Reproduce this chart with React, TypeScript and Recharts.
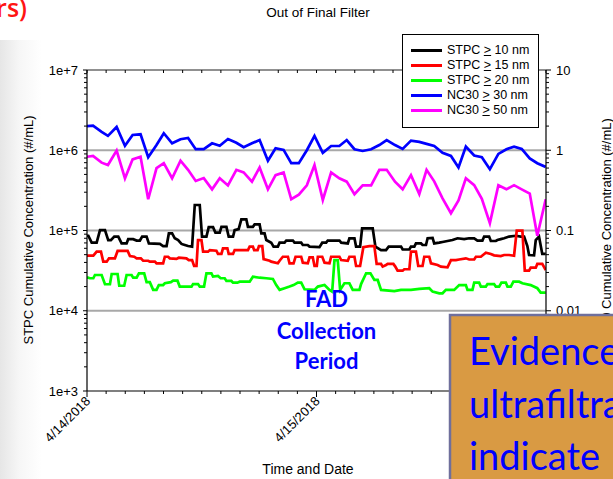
import React from 'react';
import { LineChart, Line, XAxis, YAxis, ReferenceLine, Legend } from 'recharts';

const FONT = '"Liberation Sans", Arial, sans-serif';
const SLIDE_FONT = 'Lato, "Open Sans", sans-serif';

// ---- axis categories / labels ----
const dayHours = [0, 24, 48];
const dayLabels = ['4/14/2018', '4/15/2018', '4/16/2018'];
const hourTicks = [0, 2, 4, 6, 8, 10, 12, 14, 16, 18, 20, 22, 24, 26, 28, 30, 32, 34, 36, 38, 40, 42, 44, 46, 48];
const leftMajor = [1e3, 1e4, 1e5, 1e6, 1e7];
const leftMajorLabels = ['1e+3', '1e+4', '1e+5', '1e+6', '1e+7'];
const rightMajor = [0.001, 0.01, 0.1, 1, 10];
const rightMajorLabels = ['0.001', '0.01', '0.1', '1', '10'];
const minorMultipliers = [2, 3, 4, 5, 6, 7, 8, 9];
const gridValues = [1e4, 1e5, 1e6];

const seriesNames = ['STPC > 10 nm', 'STPC > 15 nm', 'STPC > 20 nm', 'NC30 > 30 nm', 'NC30 > 50 nm'];
const seriesColors = ['#000000', '#ff0000', '#00ff00', '#0000ff', '#ff00ff'];

// ---- NC30 series (hours since 4/14/2018 00:00) ----
const nc30Hours = [0, 0.63, 1.53, 2.19, 3.1, 3.97, 4.77, 5.6, 6.4, 7.27, 8.03, 8.9, 9.78, 10.57, 11.37, 12.21, 13.08, 13.88, 14.74, 15.62, 16.38, 17.25, 18.05, 18.92, 19.72, 20.56, 21.36, 22.15, 22.99, 23.79, 24.66, 25.53, 26.39, 27.16, 27.97, 28.83, 29.71, 30.57, 31.34, 32.21, 33.01, 33.88, 34.75, 35.51, 36.31, 37.18, 38.06, 38.85, 39.62, 40.49, 41.29, 42.13, 43.02, 43.86, 44.66, 45.46, 46.3, 47.09, 47.97];
const nc30Above30 = [2.0e6, 2.02e6, 1.69e6, 1.51e6, 1.95e6, 1.14e6, 1.55e6, 1.58e6, 8.2e5, 1.16e6, 1.63e6, 1.22e6, 1.37e6, 1.42e6, 1.03e6, 1.03e6, 1.22e6, 1.14e6, 1.38e6, 1.24e6, 1.09e6, 1.22e6, 1.34e6, 7.4e5, 1.06e6, 1.01e6, 6.9e5, 6.9e5, 1.0e6, 1.51e6, 9.3e5, 1.13e6, 1.13e6, 1.34e6, 1.03e6, 9.8e5, 1.03e6, 1.16e6, 1.34e6, 1.16e6, 1.04e6, 1.32e6, 1.27e6, 1.2e6, 1.13e6, 9.3e5, 8.5e5, 6.1e5, 1.11e6, 8.6e5, 8.2e5, 5.8e5, 9.0e5, 1.03e6, 1.11e6, 1.04e6, 7.9e5, 6.9e5, 6.2e5];
const nc30Above50 = [8.3e5, 8.5e5, 7.0e5, 6.55e5, 9.9e5, 4.47e5, 7.7e5, 8.3e5, 2.45e5, 6.0e5, 6.9e5, 4.48e5, 7.4e5, 5.7e5, 4.14e5, 4.5e5, 3.26e5, 4.48e5, 3.64e5, 5.7e5, 5.3e5, 4.06e5, 6.1e5, 3.26e5, 4.9e5, 5.3e5, 2.45e5, 2.8e5, 3.66e5, 6.55e5, 2.4e5, 5.3e5, 4.47e5, 4.06e5, 2.83e5, 3.66e5, 3.66e5, 5.7e5, 5.7e5, 4.06e5, 3.26e5, 4.9e5, 2.84e5, 5.7e5, 4.1e5, 2.52e5, 1.64e5, 2.37e5, 4.47e5, 3.67e5, 2.48e5, 1.23e5, 3.67e5, 3.26e5, 3.67e5, 3.26e5, 2.88e5, 8.6e4, 2.45e5];

// ---- STPC series: [hour, concentration] ----
const stpc10: [number, number][] = [[0, 8.6e4], [0.14, 8.6e4], [0.49, 7.05e4], [1.01, 7.05e4], [1.36, 1.01e5], [1.88, 1.01e5], [2.22, 7.6e4], [2.5, 7.6e4], [2.85, 8.4e4], [3.27, 8.4e4], [3.62, 6.9e4], [4.14, 6.9e4], [4.31, 7.8e4], [4.83, 7.8e4], [5.19, 7.5e4], [5.53, 7.5e4], [5.77, 8.4e4], [6.23, 8.4e4], [6.47, 6.9e4], [7.62, 6.8e4], [7.96, 6.4e4], [8.32, 6.4e4], [8.56, 9.2e4], [8.9, 9.2e4], [9.18, 8.0e4], [9.53, 7.6e4], [9.88, 6.8e4], [10.23, 6.6e4], [10.57, 6.4e4], [10.99, 6.3e4], [11.27, 2.08e5], [11.79, 2.08e5], [12.03, 8.4e4], [12.49, 8.4e4], [12.73, 1.1e5], [13.18, 1.1e5], [13.43, 9.4e4], [13.88, 9.4e4], [14.06, 1.11e5], [14.58, 1.11e5], [14.82, 8.4e4], [15.27, 8.4e4], [15.44, 1.01e5], [15.86, 1.04e5], [16.14, 1.38e5], [16.66, 1.38e5], [16.83, 1.11e5], [17.35, 1.11e5], [17.53, 1.19e5], [18.05, 1.19e5], [18.23, 9.2e4], [18.57, 9.2e4], [18.75, 7.6e4], [19.27, 7.05e4], [19.51, 6.3e4], [19.96, 6.3e4], [20.14, 7.05e4], [20.66, 7.05e4], [20.84, 7.5e4], [21.53, 7.5e4], [21.7, 7.05e4], [22.4, 7.05e4], [22.57, 6.6e4], [23.09, 6.6e4], [23.27, 6.3e4], [24.31, 6.2e4], [24.6, 7.05e4], [25.01, 7.05e4], [25.18, 7.5e4], [26.4, 7.5e4], [26.58, 7.05e4], [27.27, 6.9e4], [27.44, 8.0e4], [27.97, 8.0e4], [28.14, 6.3e4], [28.56, 6.3e4], [28.77, 1.06e5], [29.88, 1.06e5], [30.16, 6.3e4], [30.75, 5.7e4], [31.27, 5.7e4], [31.55, 6.3e4], [32.84, 6.3e4], [33.01, 5.8e4], [33.71, 5.8e4], [33.88, 6.3e4], [34.23, 6.3e4], [34.4, 6.9e4], [34.93, 6.9e4], [35.09, 6.6e4], [35.45, 6.6e4], [35.62, 8.0e4], [36.14, 8.1e4], [36.31, 6.9e4], [36.84, 7.05e4], [37.18, 7.2e4], [37.7, 7.4e4], [38.22, 7.6e4], [38.75, 8.0e4], [39.44, 7.8e4], [39.96, 8.0e4], [40.49, 8.0e4], [40.83, 7.5e4], [41.35, 7.5e4], [41.53, 8.4e4], [42.05, 8.4e4], [42.23, 7.4e4], [42.75, 7.4e4], [42.92, 7.6e4], [43.27, 7.8e4], [43.62, 8.0e4], [44.14, 8.4e4], [44.84, 8.6e4], [45.36, 8.4e4], [45.71, 8.4e4], [46.05, 6.4e4], [46.23, 4.95e4], [46.75, 4.9e4], [46.93, 7.6e4], [47.27, 8.4e4], [47.61, 5.1e4], [47.97, 5.1e4]];

const stpc15: [number, number][] = [[0, 4.85e4], [0.66, 4.85e4], [1.01, 5.45e4], [1.46, 5.45e4], [1.7, 4.09e4], [2.06, 4.09e4], [2.3, 4.5e4], [2.92, 4.5e4], [3.2, 5.56e4], [4.25, 5.56e4], [4.49, 4.81e4], [4.94, 4.71e4], [5.19, 4.5e4], [5.63, 4.5e4], [5.87, 4.2e4], [6.4, 4.2e4], [6.57, 4.09e4], [7.1, 4.09e4], [7.27, 3.9e4], [7.96, 3.9e4], [8.14, 4.71e4], [8.48, 4.71e4], [8.66, 4.5e4], [9.36, 4.42e4], [9.6, 4.58e4], [10.4, 4.5e4], [10.64, 4.28e4], [10.99, 4.28e4], [11.2, 3.61e4], [11.45, 3.61e4], [11.61, 7.6e4], [11.97, 7.6e4], [12.14, 5.45e4], [12.66, 5.45e4], [12.84, 5.7e4], [13.53, 5.6e4], [13.7, 5.1e4], [14.06, 5.1e4], [14.22, 6.0e4], [14.68, 6.0e4], [14.82, 5.1e4], [15.27, 5.1e4], [15.44, 5.7e4], [16.83, 5.7e4], [17.01, 6.3e4], [17.35, 6.3e4], [17.48, 5.7e4], [17.84, 5.7e4], [17.98, 6.4e4], [18.33, 6.4e4], [18.47, 4.4e4], [19.1, 4.2e4], [19.27, 4.09e4], [19.96, 3.9e4], [20.14, 4.2e4], [20.48, 4.71e4], [21.01, 4.71e4], [21.18, 3.9e4], [21.6, 3.9e4], [21.81, 4.71e4], [22.4, 4.71e4], [22.57, 3.97e4], [23.09, 3.9e4], [23.27, 4.63e4], [23.61, 4.63e4], [23.79, 3.61e4], [24.03, 3.61e4], [24.14, 4.71e4], [24.6, 4.71e4], [24.84, 3.97e4], [25.36, 3.9e4], [25.53, 4.71e4], [26.4, 4.71e4], [26.58, 4.28e4], [27.27, 4.2e4], [27.44, 4.71e4], [27.97, 4.71e4], [28.14, 3.61e4], [28.56, 3.61e4], [28.9, 6.2e4], [29.53, 6.4e4], [30.05, 6.4e4], [30.29, 3.83e4], [30.75, 3.83e4], [30.92, 3.55e4], [31.27, 3.72e4], [31.44, 3.83e4], [32.04, 3.83e4], [32.24, 3.55e4], [32.48, 3.16e4], [33.01, 3.16e4], [33.18, 3.29e4], [33.71, 3.29e4], [33.88, 5.45e4], [34.4, 5.45e4], [34.64, 3.61e4], [35.09, 3.61e4], [35.27, 4.71e4], [35.79, 4.71e4], [35.97, 3.9e4], [36.66, 3.72e4], [37.01, 3.55e4], [37.7, 3.48e4], [38.06, 4.28e4], [38.58, 4.28e4], [38.92, 4.35e4], [39.62, 4.5e4], [39.97, 4.35e4], [40.49, 4.35e4], [40.67, 4.71e4], [41.19, 4.71e4], [41.71, 5.3e4], [42.23, 5.1e4], [42.57, 4.9e4], [43.27, 4.8e4], [43.62, 4.95e4], [44.14, 4.95e4], [44.66, 4.85e4], [44.94, 9.96e4], [45.53, 9.96e4], [45.78, 3.16e4], [46.23, 3.16e4], [46.4, 3.44e4], [46.93, 3.44e4], [47.09, 3.83e4], [47.61, 3.83e4], [47.97, 3.22e4]];

const stpc20: [number, number][] = [[0, 2.61e4], [0.31, 2.54e4], [0.66, 2.54e4], [0.83, 2.79e4], [1.53, 2.79e4], [1.88, 2.14e4], [2.4, 2.14e4], [2.58, 2.87e4], [3.2, 2.87e4], [3.37, 2.05e4], [3.89, 2.05e4], [4.14, 2.79e4], [4.66, 2.79e4], [4.83, 2.58e4], [5.19, 2.58e4], [5.43, 2.93e4], [5.98, 2.93e4], [6.23, 2.27e4], [6.57, 2.27e4], [6.92, 1.82e4], [7.27, 1.82e4], [7.51, 2.09e4], [7.96, 2.09e4], [8.14, 2.2e4], [8.77, 2.27e4], [9.01, 2.37e4], [9.46, 2.37e4], [9.7, 2.0e4], [10.93, 2.0e4], [11.09, 2.15e4], [11.61, 2.15e4], [11.79, 2.0e4], [12.24, 2.0e4], [12.49, 2.93e4], [13.01, 2.93e4], [13.18, 2.66e4], [13.7, 2.71e4], [13.98, 2.54e4], [14.4, 2.54e4], [14.58, 2.35e4], [15.1, 2.35e4], [15.27, 2.24e4], [15.73, 2.24e4], [15.97, 2.3e4], [17.01, 2.3e4], [17.35, 2.66e4], [18.05, 2.58e4], [18.75, 2.54e4], [19.44, 2.49e4], [19.79, 2.09e4], [20.14, 1.82e4], [20.66, 1.91e4], [21.18, 2.0e4], [21.6, 2.09e4], [22.05, 2.24e4], [22.4, 2.24e4], [22.75, 1.85e4], [23.79, 1.82e4], [24.14, 2.0e4], [24.84, 2.09e4], [25.36, 1.82e4], [25.64, 1.73e4], [25.88, 4.28e4], [26.22, 4.28e4], [26.47, 1.82e4], [26.92, 2.2e4], [27.44, 2.2e4], [27.79, 1.82e4], [28.49, 1.82e4], [28.66, 2.15e4], [29.19, 2.93e4], [29.64, 2.93e4], [30.05, 2.42e4], [30.4, 2.42e4], [30.75, 1.82e4], [32.14, 1.76e4], [32.84, 1.82e4], [33.88, 1.82e4], [34.75, 1.87e4], [35.79, 1.91e4], [36.14, 1.73e4], [36.84, 1.65e4], [37.18, 1.65e4], [37.53, 1.82e4], [38.4, 1.82e4], [38.92, 2.09e4], [39.62, 2.09e4], [39.79, 1.82e4], [40.31, 1.82e4], [40.49, 2.24e4], [41.01, 2.24e4], [41.19, 2.0e4], [41.71, 2.0e4], [41.88, 2.15e4], [42.57, 2.15e4], [42.75, 2.0e4], [43.1, 2.0e4], [43.34, 2.24e4], [43.8, 2.24e4], [43.97, 2.0e4], [44.32, 2.0e4], [44.59, 2.3e4], [45.19, 2.3e4], [45.53, 2.2e4], [46.4, 2.09e4], [47.09, 1.91e4], [47.44, 1.68e4], [47.97, 1.68e4]];

// ---- build rows for the library ----
const pairsToRows = (pairs: [number, number][]) => pairs.map(([t, v]) => ({ t, v }));
const nc30Rows = (vals: number[]) => nc30Hours.map((t, i) => ({ t, v: vals[i] }));
const seriesData = [pairsToRows(stpc10), pairsToRows(stpc15), pairsToRows(stpc20), nc30Rows(nc30Above30), nc30Rows(nc30Above50)];

const withMinors = (majors: number[]) => {
  const out: number[] = [];
  majors.forEach((m, i) => {
    out.push(m);
    if (i < majors.length - 1) minorMultipliers.forEach((k) => out.push(m * k));
  });
  return out;
};
const leftTicks = withMinors(leftMajor);
const rightTicks = withMinors(rightMajor);
const majorIndex = (majors: number[], v: number) => majors.findIndex((m) => Math.abs(m - v) / m < 1e-6);

const LeftTick = (props: any) => {
  const { x, y, payload } = props;
  const idx = majorIndex(leftMajor, payload.value);
  if (idx < 0) return <line x1={x - 3} x2={x} y1={y} y2={y} stroke="#000" strokeWidth={1} />;
  return (
    <g>
      <line x1={x - 4} x2={x} y1={y} y2={y} stroke="#000" strokeWidth={1} />
      <text x={x - 9} y={y} dy={4.5} textAnchor="end" fontSize={13} fontFamily={FONT} fill="#000">
        {leftMajorLabels[idx]}
      </text>
    </g>
  );
};

const RightTick = (props: any) => {
  const { x, y, payload } = props;
  const idx = majorIndex(rightMajor, payload.value);
  if (idx < 0) return <line x1={x} x2={x + 3} y1={y} y2={y} stroke="#000" strokeWidth={1} />;
  return (
    <g>
      <line x1={x} x2={x + 5} y1={y} y2={y} stroke="#000" strokeWidth={1} />
      <text x={x + 10} y={y} dy={4.5} textAnchor="start" fontSize={13} fontFamily={FONT} fill="#000">
        {rightMajorLabels[idx]}
      </text>
    </g>
  );
};

const BottomTick = (props: any) => {
  const { x, y, payload } = props;
  const idx = dayHours.indexOf(payload.value);
  if (idx < 0) return <line x1={x} x2={x} y1={y} y2={y + 3} stroke="#000" strokeWidth={1} />;
  const ax = x + 4;
  const ay = y + 11;
  return (
    <g>
      <line x1={x} x2={x} y1={y} y2={y + 6} stroke="#000" strokeWidth={1} />
      <text x={ax} y={ay} transform={`rotate(-45 ${ax} ${ay})`} textAnchor="end" fontSize={13} fontFamily={FONT} fill="#000">
        {dayLabels[idx]}
      </text>
    </g>
  );
};

const TopTick = (props: any) => {
  const { x, y } = props;
  return <line x1={x} x2={x} y1={y} y2={y + 3} stroke="#000" strokeWidth={1} />;
};

const LegendBox = (props: any) => {
  const payload = [...(props.payload || [])].sort(
    (a: any, b: any) => seriesNames.indexOf(a.value) - seriesNames.indexOf(b.value)
  );
  return (
    <div
      style={{
        width: 137,
        height: 94,
        boxSizing: 'border-box',
        border: '1px solid #000',
        background: '#fff',
        paddingTop: 8,
        fontFamily: FONT,
        fontSize: 12.5,
        color: '#000',
      }}
    >
      {payload.map((entry: any) => {
        const [left, right] = String(entry.value).split('>');
        return (
          <div key={entry.value} style={{ height: 15, lineHeight: '15px', whiteSpace: 'nowrap', display: 'flex', alignItems: 'center' }}>
            <span style={{ display: 'inline-block', width: 31, height: 2.5, background: entry.color, marginLeft: 8, marginRight: 5 }} />
            <span>
              {left}
              <span style={{ textDecoration: 'underline' }}>&gt;</span>
              {right}
            </span>
          </div>
        );
      })}
    </div>
  );
};

export default function App() {
  return (
    <div style={{ position: 'absolute', left: 0, top: 0, width: 613, height: 479, background: '#fff', overflow: 'hidden' }}>
      <div
        style={{
          position: 'absolute',
          left: 0,
          top: 40,
          width: 42,
          height: 439,
          background: 'linear-gradient(to right, #e6e6e6 0%, #f6f6f6 45%, #ffffff 100%)',
        }}
      />
      <div style={{ position: 'absolute', left: 0, top: 0 }}>
        <LineChart width={613} height={479} margin={{ top: 20, right: 0, bottom: 0, left: 0 }}>
          <XAxis
            xAxisId="bottom"
            type="number"
            dataKey="t"
            domain={[0, 48]}
            allowDataOverflow
            ticks={hourTicks}
            interval={0}
            height={88}
            tickSize={0}
            tickMargin={0}
            tickLine={false}
            tick={<BottomTick />}
            axisLine={{ stroke: '#000', strokeWidth: 1.2 }}
          />
          <XAxis
            xAxisId="top"
            orientation="top"
            type="number"
            dataKey="t"
            domain={[0, 48]}
            allowDataOverflow
            ticks={hourTicks}
            interval={0}
            height={50}
            tickSize={0}
            tickMargin={0}
            tickLine={false}
            tick={<TopTick />}
            axisLine={{ stroke: '#222', strokeWidth: 1.2 }}
          />
          <YAxis
            yAxisId="left"
            type="number"
            scale="log"
            domain={[1e3, 1e7]}
            allowDataOverflow
            ticks={leftTicks}
            interval={0}
            width={87}
            tickSize={0}
            tickMargin={0}
            tickLine={false}
            tick={<LeftTick />}
            axisLine={{ stroke: '#000', strokeWidth: 1.2 }}
          />
          <YAxis
            yAxisId="right"
            orientation="right"
            type="number"
            scale="log"
            domain={[0.001, 10]}
            allowDataOverflow
            ticks={rightTicks}
            interval={0}
            width={67}
            tickSize={0}
            tickMargin={0}
            tickLine={false}
            tick={<RightTick />}
            axisLine={{ stroke: '#000', strokeWidth: 1.2 }}
          />
          {gridValues.map((g) => (
            <ReferenceLine key={g} xAxisId="bottom" yAxisId="left" y={g} stroke="#a8a8a8" strokeWidth={2} ifOverflow="extendDomain" />
          ))}
          {seriesData.map((rows, i) => (
            <Line
              key={seriesNames[i]}
              xAxisId="bottom"
              yAxisId="left"
              data={rows}
              dataKey="v"
              name={seriesNames[i]}
              stroke={seriesColors[i]}
              strokeWidth={2.7}
              dot={false}
              activeDot={false}
              isAnimationActive={false}
            />
          ))}
          <Legend
            layout="vertical"
            align="center"
            verticalAlign="middle"
            content={<LegendBox />}
            wrapperStyle={{ position: 'absolute', left: 402, top: 34, width: 137, height: 94 }}
          />
        </LineChart>
      </div>
      <svg width={613} height={479} style={{ position: 'absolute', left: 0, top: 0, pointerEvents: 'none' }}>
        <text x={27} y={17} textAnchor="end" fontSize={25} fontWeight={600} fontFamily='"Open Sans", Lato, sans-serif' fill="#ff1414">
          rs)
        </text>
        <text x={318} y={17} textAnchor="middle" fontSize={13.5} fontFamily={FONT} fill="#000">
          Out of Final Filter
        </text>
        <text x={28} y={230} transform="rotate(-90 28 230)" textAnchor="middle" dominantBaseline="central" fontSize={13} fontFamily={FONT} fill="#000">
          STPC Cumulative Concentration (#/mL)
        </text>
        <text x={606} y={232} transform="rotate(-90 606 232)" textAnchor="middle" dominantBaseline="central" fontSize={13} fontFamily={FONT} fill="#000">
          NC30 Cumulative Concentration (#/mL)
        </text>
        <text x={308} y={474} textAnchor="middle" fontSize={14} fontFamily={FONT} fill="#000">
          Time and Date
        </text>
        <g fontFamily={SLIDE_FONT} fontWeight={700} fontSize={22} fill="#0000ff" textAnchor="middle">
          <text x={326.5} y={307}>FAD</text>
          <text x={326.5} y={339}>Collection</text>
          <text x={326.5} y={369}>Period</text>
        </g>
        <rect x={450} y={315} width={175} height={175} fill="#D99A43" stroke="#6F6F9C" strokeWidth={2.5} />
        <g fontFamily={SLIDE_FONT} fontSize={38} fill="#0000ff">
          <text x={469} y={365}>Evidence of</text>
          <text x={469} y={418}>ultrafiltration</text>
          <text x={469} y={470}>indicate</text>
        </g>
      </svg>
    </div>
  );
}
